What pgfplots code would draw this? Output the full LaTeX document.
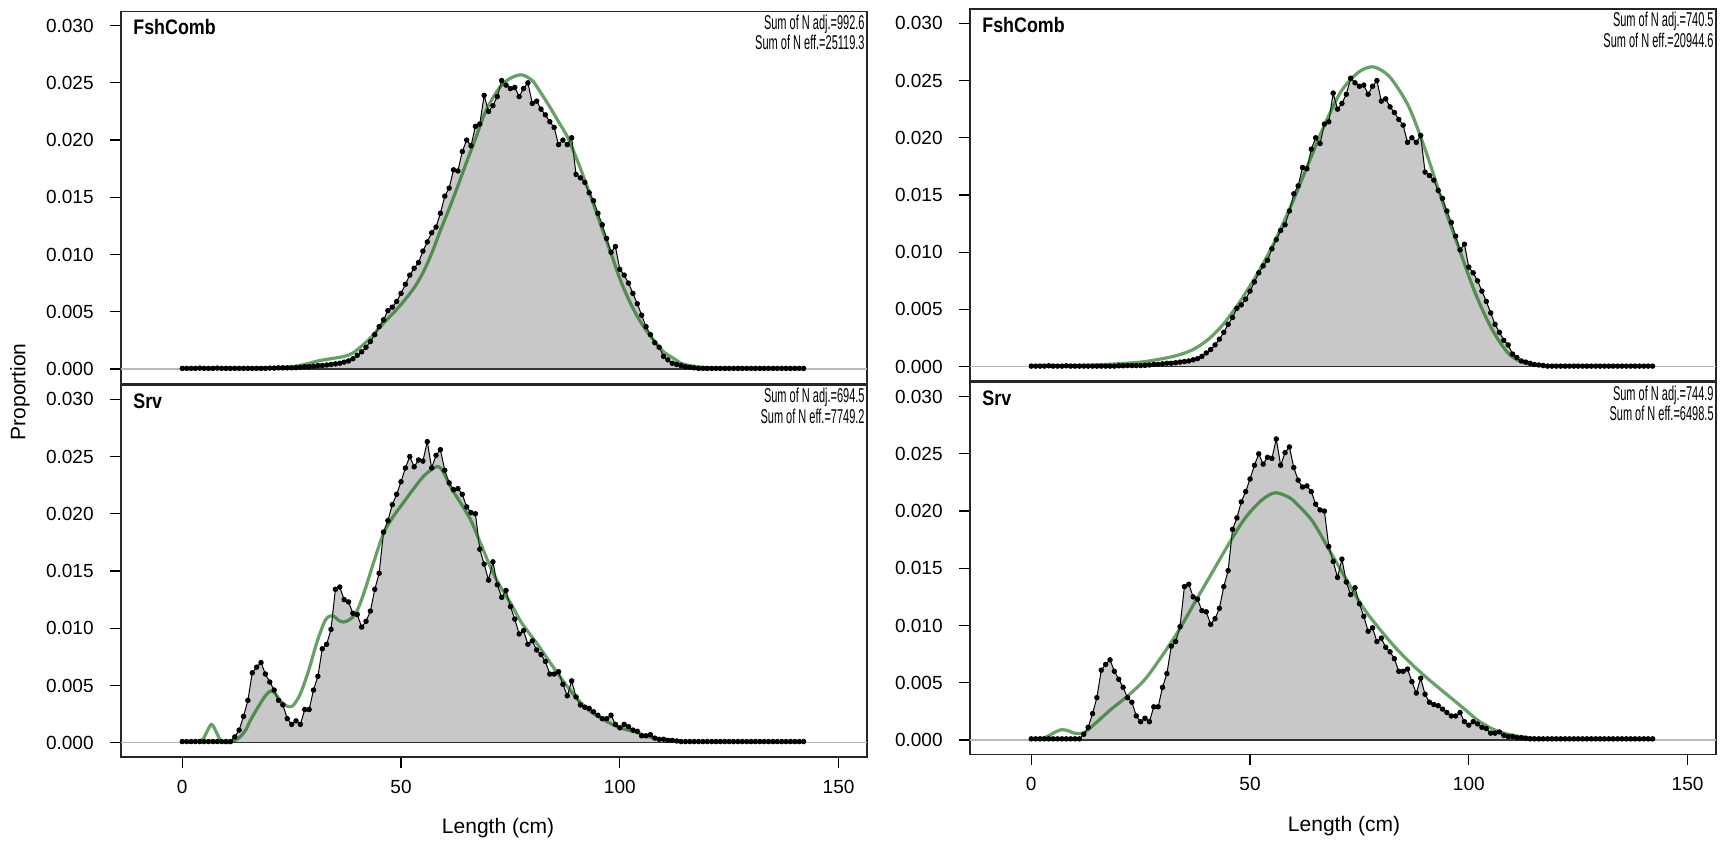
\documentclass[border=0pt]{standalone}
\usepackage{fontspec}
\setmainfont{Liberation Sans}
\newfontfamily\condfont{Liberation Sans}[FakeStretch=0.55]
\newfontfamily\titlefont{Liberation Sans}[FakeStretch=0.85]
\usepackage{pgfplots}
\usepackage{pgfplotstable}
\pgfplotsset{compat=1.18}
\definecolor{fillgray}{RGB}{200,200,200}
\definecolor{fitgreen}{RGB}{0,100,0}

\pgfplotstableread{
x y
0 0.00005
1 0.00005
2 0.00005
3 0.00005
4 0.00008
5 0.00005
6 0.00005
7 0.00005
8 0.00008
9 0.00005
10 0.00005
11 0.00005
12 0.00005
13 0.00005
14 0.00005
15 0.00005
16 0.00005
17 0.00005
18 0.00005
19 0.00005
20 0.00008
21 0.00008
22 0.0001
23 0.0001
24 0.0001
25 0.0001
26 0.00012
27 0.00015
28 0.0002
29 0.0002
30 0.00025
31 0.0003
32 0.0003
33 0.00035
34 0.0004
35 0.00045
36 0.0005
37 0.0006
38 0.0007
39 0.0009
40 0.0012
41 0.0015
42 0.0019
43 0.0024
44 0.0030
45 0.0037
46 0.0043
47 0.0051
48 0.0054
49 0.0059
50 0.0066
51 0.0074
52 0.0082
53 0.0088
54 0.0093
55 0.0103
56 0.0111
57 0.0119
58 0.0124
59 0.0136
60 0.0151
61 0.0158
62 0.0174
63 0.0173
64 0.0190
65 0.0200
66 0.0195
67 0.0212
68 0.0214
69 0.0239
70 0.0225
71 0.0230
72 0.0238
73 0.0252
74 0.0248
75 0.0245
76 0.0246
77 0.0238
78 0.0245
79 0.0250
80 0.0232
81 0.0234
82 0.0227
83 0.0222
84 0.0216
85 0.0211
86 0.0196
87 0.0200
88 0.0196
89 0.0202
90 0.0170
91 0.0167
92 0.0163
93 0.0154
94 0.0147
95 0.0136
96 0.0126
97 0.0114
98 0.0102
99 0.0107
100 0.0087
101 0.0082
102 0.0075
103 0.0066
104 0.0057
105 0.0047
106 0.0037
107 0.0030
108 0.0023
109 0.0019
110 0.0011
111 0.0008
112 0.0005
113 0.0004
114 0.0003
115 0.0002
116 0.00015
117 0.0001
118 0.00005
119 0.00005
120 0.00005
121 0.00005
122 0.00005
123 0.00005
124 0.00005
125 0.00005
126 0.00005
127 0.00005
128 0.00005
129 0.00005
130 0.00005
131 0.00005
132 0.00005
133 0.00005
134 0.00005
135 0.00005
136 0.00005
137 0.00005
138 0.00005
139 0.00005
140 0.00005
141 0.00005
142 0.00005
}\obsF

\pgfplotstableread{
x y
0 0.0001
1 0.0001
2 0.0001
3 0.0001
4 0.0001
5 0.0001
6 0.0001
7 0.0001
8 0.0001
9 0.0001
10 0.0001
11 0.0001
12 0.0005
13 0.0011
14 0.0023
15 0.0037
16 0.0061
17 0.0066
18 0.0070
19 0.0060
20 0.0053
21 0.0046
22 0.0037
23 0.0033
24 0.0021
25 0.0016
26 0.0019
27 0.0016
28 0.0029
29 0.0029
30 0.0046
31 0.0058
32 0.0082
33 0.0086
34 0.0099
35 0.0134
36 0.0136
37 0.0125
38 0.0123
39 0.0113
40 0.0112
41 0.0101
42 0.0106
43 0.0115
44 0.0134
45 0.0148
46 0.0184
47 0.0194
48 0.0208
49 0.0217
50 0.0228
51 0.0240
52 0.0250
53 0.0241
54 0.0247
55 0.0246
56 0.0263
57 0.0240
58 0.0251
59 0.0256
60 0.0238
61 0.0227
62 0.0221
63 0.0222
64 0.0217
65 0.0206
66 0.0201
67 0.0200
68 0.0169
69 0.0156
70 0.0142
71 0.0158
72 0.0138
73 0.0127
74 0.0133
75 0.0119
76 0.0108
77 0.0095
78 0.0098
79 0.0086
80 0.0089
81 0.0081
82 0.0077
83 0.0071
84 0.0060
85 0.0060
86 0.0062
87 0.0051
88 0.0041
89 0.0054
90 0.0040
91 0.0033
92 0.0031
93 0.0030
94 0.0027
95 0.0024
96 0.0021
97 0.0021
98 0.0024
99 0.0016
100 0.0013
101 0.0016
102 0.0014
103 0.0011
104 0.0010
105 0.0006
106 0.0006
107 0.0007
108 0.0004
109 0.0003
110 0.0003
111 0.0002
112 0.0002
113 0.00015
114 0.0001
115 0.0001
116 0.0001
117 0.0001
118 0.0001
119 0.0001
120 0.0001
121 0.0001
122 0.0001
123 0.0001
124 0.0001
125 0.0001
126 0.0001
127 0.0001
128 0.0001
129 0.0001
130 0.0001
131 0.0001
132 0.0001
133 0.0001
134 0.0001
135 0.0001
136 0.0001
137 0.0001
138 0.0001
139 0.0001
140 0.0001
141 0.0001
142 0.0001
}\obsS

\pgfplotsset{
  panel/.style={
    scale only axis, width=373pt, height=186pt,
    xmin=-14, xmax=156.5, ymin=-0.00125, ymax=0.03125,
    axis line style={black!85, line width=0.75pt},
    tick style={black, line width=0.6pt},
    tick align=outside, major tick length=5.5pt,
    ytick={0,0.005,0.01,0.015,0.02,0.025,0.03},
    ytick pos=left,
    scaled y ticks=false,
    /pgf/number format/assume math mode=true,
    yticklabel style={/pgf/number format/fixed, /pgf/number format/fixed zerofill, /pgf/number format/precision=3,
      font=\fontsize{9.5}{11}\selectfont, anchor=east, inner sep=0pt, xshift=-8pt},
    xticklabel style={font=\fontsize{9.5}{11}\selectfont, anchor=center, inner sep=0pt, yshift=-9.3pt},
    clip=true,
  },
  toppanel/.style={panel, xtick=\empty},
  botpanel/.style={panel, xtick={0,50,100,150}, xtick pos=left},
  zeroline/.style={gray!55, line width=0.6pt, forget plot},
  obsfill/.style={fill=fillgray, draw=none, forget plot},
  obsline/.style={black, line width=0.5pt, mark=*, mark size=1.1pt, mark options={fill=black}},
  baseline/.style={black!80, line width=0.6pt},
  fitline/.style={fitgreen, draw opacity=0.6, line width=1.6pt, smooth, tension=0.5},
}

\newcommand{\paneltext}[3]{%
  \node[anchor=north west, inner sep=0pt, font=\titlefont\bfseries\fontsize{10.5}{12}\selectfont]
    at (rel axis cs:0,1) [xshift=6pt, yshift=-4pt] {#1};
  \node[anchor=north east, inner sep=0pt, align=right, font=\condfont\fontsize{10}{8.6}\selectfont]
    at (rel axis cs:1,1) [xshift=-1pt, yshift=-1.5pt] {Sum of N adj.=#2\\Sum of N eff.=#3};
}

\begin{document}
\begin{tikzpicture}
\path[use as bounding box] (0,0) rectangle (865pt,423.5pt);

% ---------- left column, top ----------
\begin{axis}[toppanel, at={(60.5pt,231.85pt)}, anchor=south west]
\addplot[zeroline] coordinates {(-14,0) (156.5,0)};
\addplot[obsfill] table {\obsF} \closedcycle;
\addplot[baseline] coordinates {(0,0) (142,0)};
\addplot[obsline] table {\obsF};
\addplot[fitline] coordinates {
(0,0.00005) (10,0.00006) (20,0.0001) (25,0.0002) (28,0.0004) (31,0.0007) (34,0.0009) (37,0.0011)
(39,0.0014) (41,0.0020) (43,0.0027) (45,0.0036) (47,0.0044) (49,0.0052) (51,0.0061) (53,0.0071)
(55,0.0084) (57,0.0101) (59,0.0121) (61,0.0140) (63,0.0160) (65,0.0181) (67,0.0201) (69,0.0222)
(71,0.0237) (73,0.0248) (75,0.0254) (77.5,0.0257) (80,0.0252) (82,0.0241) (84,0.0229) (86,0.0216)
(88,0.0203) (90,0.0185) (92,0.0165) (94,0.0144) (96,0.0122) (98,0.0101) (100,0.0079) (102,0.0061)
(104,0.0046) (106,0.0034) (108,0.0024) (110,0.0015) (112,0.0010) (114,0.0005) (116,0.0003)
(119,0.00015) (124,0.00007) (142,0.00005)};
\paneltext{FshComb}{992.6}{25119.3}
\end{axis}

% ---------- left column, bottom ----------
\begin{axis}[botpanel, at={(60.5pt,45pt)}, anchor=south west]
\addplot[zeroline] coordinates {(-14,0) (156.5,0)};
\addplot[obsfill] table {\obsS} \closedcycle;
\addplot[baseline] coordinates {(0,0) (142,0)};
\addplot[obsline] table {\obsS};
\addplot[fitline] coordinates {
(0,0.0001) (3,0.0001) (4.7,0.0003) (5.7,0.0010) (6.7,0.0016) (7.7,0.0010) (8.7,0.0002) (9.6,0.00002)
(11,0.00002) (12,0.0002) (13.2,0.0005) (14.5,0.0011) (15.5,0.0019) (16.7,0.0027) (17.8,0.0034)
(19,0.0041) (20.1,0.0045) (21,0.0044) (21.8,0.0040) (22.8,0.0035) (23.9,0.0032) (25.2,0.0032)
(26.9,0.0042) (28.8,0.0062) (30.8,0.0088) (32.7,0.0107) (34.3,0.0111) (36.1,0.0106) (37.5,0.0106)
(39.3,0.0111) (40.5,0.0120) (41.8,0.0134) (43.7,0.0157) (46,0.0183) (48.3,0.0198) (50.6,0.0210)
(52.9,0.0222) (55.2,0.0233) (57.5,0.0240) (58.6,0.0241) (59.6,0.0237) (61.4,0.0223) (63.7,0.0209)
(66,0.0194) (68.3,0.0173) (70.6,0.0152) (72.9,0.0135) (75.2,0.0121) (77.5,0.0105) (81,0.0087)
(84.8,0.0066) (88.6,0.0046) (92.4,0.0030) (96.3,0.0020) (100.1,0.0013) (103.9,0.0009) (107.7,0.0004)
(111.5,0.0002) (116,0.0001) (142,0.00005)};
\paneltext{Srv}{694.5}{7749.2}
\end{axis}

% ---------- right column, top ----------
\begin{axis}[toppanel, at={(485pt,233pt)}, anchor=south west]
\addplot[zeroline] coordinates {(-14,0) (156.5,0)};
\addplot[obsfill] table {\obsF} \closedcycle;
\addplot[baseline] coordinates {(0,0) (142,0)};
\addplot[obsline] table {\obsF};
\addplot[fitline] coordinates {
(0,0.0001) (10,0.0001) (17.3,0.0002) (25,0.0004) (30,0.0007) (33.5,0.0010) (37,0.0015) (40.5,0.0024)
(44.1,0.0038) (47.9,0.0058) (51.8,0.0082) (55.6,0.0109) (59.4,0.0141) (63.3,0.0177) (67.1,0.0212)
(70.9,0.0241) (74.7,0.0257) (77.7,0.0262) (80,0.0259) (82.4,0.0251) (86.3,0.0227) (90.1,0.0189)
(93.9,0.0145) (97.7,0.0104) (101.5,0.0064) (105.4,0.0032) (109.2,0.0011) (113,0.0003) (118,0.0001)
(142,0.00005)};
\paneltext{FshComb}{740.5}{20944.6}
\end{axis}

% ---------- right column, bottom ----------
\begin{axis}[botpanel, at={(485pt,46.35pt)}, anchor=south west]
\addplot[zeroline] coordinates {(-14,0) (156.5,0)};
\addplot[obsfill] table {\obsS} \closedcycle;
\addplot[baseline] coordinates {(0,0) (142,0)};
\addplot[obsline] table {\obsS};
\addplot[fitline] coordinates {
(0,0.0001) (3.1,0.0002) (5,0.0006) (6.9,0.0009) (8.5,0.0008) (9.8,0.0006) (11.8,0.0006) (13,0.0009)
(14.5,0.0014) (18.3,0.0027) (22.2,0.0039) (26,0.0053) (29.8,0.0073) (33.6,0.0095) (37.5,0.0121)
(41.3,0.0146) (45.1,0.0171) (48.9,0.0194) (52.8,0.0210) (55.8,0.0216) (58.9,0.0212) (60.5,0.0207)
(64.3,0.0191) (68.1,0.0166) (71.9,0.0141) (75.8,0.0116) (79.6,0.0097) (83.4,0.0080) (87.3,0.0065)
(91.1,0.0052) (94.9,0.0040) (98.7,0.0028) (102.5,0.0016) (106.4,0.0008) (110.2,0.0004) (114,0.0002)
(118,0.0001) (142,0.00005)};
\paneltext{Srv}{744.9}{6498.5}
\end{axis}

\node[rotate=90, font=\fontsize{10.5}{12}\selectfont] at (10pt,227.6pt) {Proportion};
\node[font=\fontsize{10.5}{12}\selectfont] at (249pt,9.5pt) {Length (cm)};
\node[font=\fontsize{10.5}{12}\selectfont] at (672pt,10.5pt) {Length (cm)};
\end{tikzpicture}
\end{document}
